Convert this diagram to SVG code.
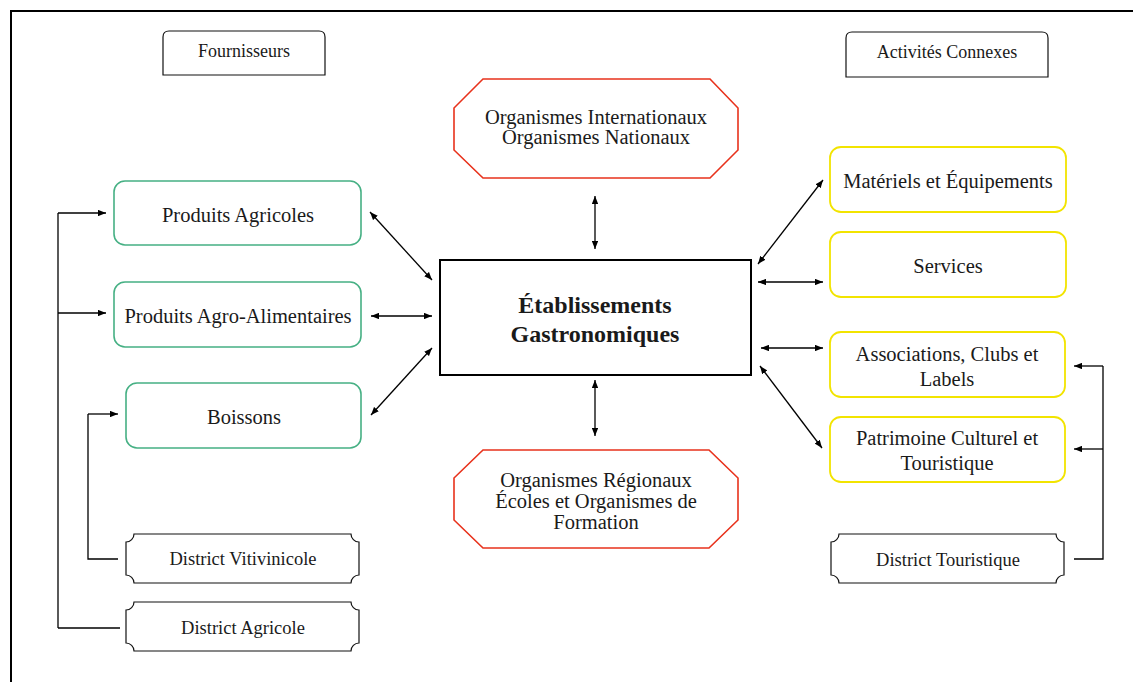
<svg xmlns="http://www.w3.org/2000/svg" width="1133" height="682" viewBox="0 0 1133 682">
  <style>
    text { font-family: "Liberation Serif", "DejaVu Serif", serif; fill: #1a1a1a; text-anchor: middle; }
    .hdr { font-size: 18px; }
    .lbl { font-size: 20.5px; }
    .dst { font-size: 18.5px; }
    .org { font-size: 20.5px; }
    .main { font-size: 24px; font-weight: bold; }
    .green { fill: #fff; stroke: #46b084; stroke-width: 1.6; }
    .yellow { fill: #fff; stroke: #f2e400; stroke-width: 1.8; }
    .oct { fill: #fff; stroke: #e8321c; stroke-width: 1.6; }
    .plain { fill: #fff; stroke: #111; stroke-width: 1.2; }
    .conn { fill: none; stroke: #000; stroke-width: 1.3; }
  </style>
  <defs>
    <marker id="arr" viewBox="0 0 10 8" refX="10" refY="4" markerWidth="8" markerHeight="6.5" markerUnits="userSpaceOnUse" orient="auto-start-reverse">
      <path d="M0,0 L10,4 L0,8 Z" fill="#000"/>
    </marker>
  </defs>

  <!-- frame -->
  <rect x="11" y="11" width="1140" height="690" fill="#fff" stroke="#000" stroke-width="2"/>

  <!-- connectors -->
  <g id="connectors" class="conn">
    <!-- supplier bus -->
    <polyline points="58,628 58,213"/>
    <polyline points="120,628 58,628"/>
    <line x1="58" y1="213" x2="106" y2="213" marker-end="url(#arr)"/>
    <line x1="58" y1="313" x2="106" y2="313" marker-end="url(#arr)"/>
    <!-- wine district bus -->
    <polyline points="118,559 88,559 88,414"/>
    <line x1="88" y1="414" x2="118" y2="414" marker-end="url(#arr)"/>
    <!-- suppliers to centre -->
    <line x1="370" y1="212" x2="432" y2="280" marker-start="url(#arr)" marker-end="url(#arr)"/>
    <line x1="371" y1="316" x2="432" y2="316" marker-start="url(#arr)" marker-end="url(#arr)"/>
    <line x1="371" y1="415" x2="432" y2="348" marker-start="url(#arr)" marker-end="url(#arr)"/>
    <!-- institutions -->
    <line x1="595" y1="196" x2="595" y2="249" marker-start="url(#arr)" marker-end="url(#arr)"/>
    <line x1="595" y1="380" x2="595" y2="436" marker-start="url(#arr)" marker-end="url(#arr)"/>
    <!-- related activities -->
    <line x1="758" y1="264" x2="823" y2="180" marker-start="url(#arr)" marker-end="url(#arr)"/>
    <line x1="758" y1="282" x2="823" y2="282" marker-start="url(#arr)" marker-end="url(#arr)"/>
    <line x1="761" y1="348" x2="823" y2="348" marker-start="url(#arr)" marker-end="url(#arr)"/>
    <line x1="760" y1="366" x2="822" y2="448" marker-start="url(#arr)" marker-end="url(#arr)"/>
    <!-- tourism district bus -->
    <polyline points="1074,559 1103,559 1103,366"/>
    <line x1="1103" y1="366" x2="1074" y2="366" marker-end="url(#arr)"/>
    <line x1="1103" y1="449" x2="1074" y2="449" marker-end="url(#arr)"/>
  </g>

  <!-- headers -->
  <g id="fournisseurs">
    <path class="plain" d="M163,75 V37 Q163,31 169,31 H319 Q325,31 325,37 V75 Z"/>
    <text class="hdr" x="244" y="57">Fournisseurs</text>
  </g>
  <g id="activites-connexes">
    <path class="plain" d="M846,77 V38 Q846,32 852,32 H1042 Q1048,32 1048,38 V77 Z"/>
    <text class="hdr" x="947" y="58">Activités Connexes</text>
  </g>

  <!-- suppliers -->
  <g id="produits-agricoles">
    <rect class="green" x="114" y="181" width="247" height="64" rx="11"/>
    <text class="lbl" x="238" y="222">Produits Agricoles</text>
  </g>
  <g id="produits-agro-alimentaires">
    <rect class="green" x="114" y="282" width="247" height="65" rx="11"/>
    <text class="lbl" x="238" y="323">Produits Agro-Alimentaires</text>
  </g>
  <g id="boissons">
    <rect class="green" x="126" y="383" width="235" height="65" rx="11"/>
    <text class="lbl" x="244" y="424">Boissons</text>
  </g>

  <!-- districts -->
  <g id="district-vitivinicole">
    <path class="plain" d="M134,534 H351 A8,8 0 0 0 359,542 V575 A8,8 0 0 0 351,583 H134 A8,8 0 0 0 126,575 V542 A8,8 0 0 0 134,534 Z"/>
    <text class="dst" x="243" y="565">District Vitivinicole</text>
  </g>
  <g id="district-agricole">
    <path class="plain" d="M134,602 H351 A8,8 0 0 0 359,610 V643 A8,8 0 0 0 351,651 H134 A8,8 0 0 0 126,643 V610 A8,8 0 0 0 134,602 Z"/>
    <text class="dst" x="243" y="634">District Agricole</text>
  </g>
  <g id="district-touristique">
    <path class="plain" d="M839,534 H1056 A8,8 0 0 0 1064,542 V575 A8,8 0 0 0 1056,583 H839 A8,8 0 0 0 831,575 V542 A8,8 0 0 0 839,534 Z"/>
    <text class="dst" x="948" y="566">District Touristique</text>
  </g>

  <!-- institutions -->
  <g id="organismes-nationaux">
    <polygon class="oct" points="483,79 710,79 738,108 738,150 710,178 483,178 454,150 454,108"/>
    <text class="org" x="596" y="124">Organismes Internationaux</text>
    <text class="org" x="596" y="144">Organismes Nationaux</text>
  </g>
  <g id="organismes-regionaux">
    <polygon class="oct" points="483,450 709,450 738,478 738,520 709,548 483,548 454,520 454,478"/>
    <text class="org" x="596" y="487">Organismes Régionaux</text>
    <text class="org" x="596" y="508">Écoles et Organismes de</text>
    <text class="org" x="596" y="529">Formation</text>
  </g>

  <!-- centre -->
  <g id="etablissements">
    <rect x="440" y="260" width="311" height="115" fill="#fff" stroke="#000" stroke-width="2"/>
    <text class="main" x="595" y="313">Établissements</text>
    <text class="main" x="595" y="342">Gastronomiques</text>
  </g>

  <!-- related activities -->
  <g id="materiels-equipements">
    <rect class="yellow" x="830" y="147" width="236" height="65" rx="11"/>
    <text class="lbl" x="948" y="188">Matériels et Équipements</text>
  </g>
  <g id="services">
    <rect class="yellow" x="830" y="232" width="236" height="65" rx="11"/>
    <text class="lbl" x="948" y="273">Services</text>
  </g>
  <g id="associations">
    <rect class="yellow" x="830" y="332" width="235" height="65" rx="11"/>
    <text class="lbl" x="947" y="361">Associations, Clubs et</text>
    <text class="lbl" x="947" y="386">Labels</text>
  </g>
  <g id="patrimoine">
    <rect class="yellow" x="830" y="417" width="235" height="65" rx="11"/>
    <text class="lbl" x="947" y="445">Patrimoine Culturel et</text>
    <text class="lbl" x="947" y="470">Touristique</text>
  </g>
</svg>
